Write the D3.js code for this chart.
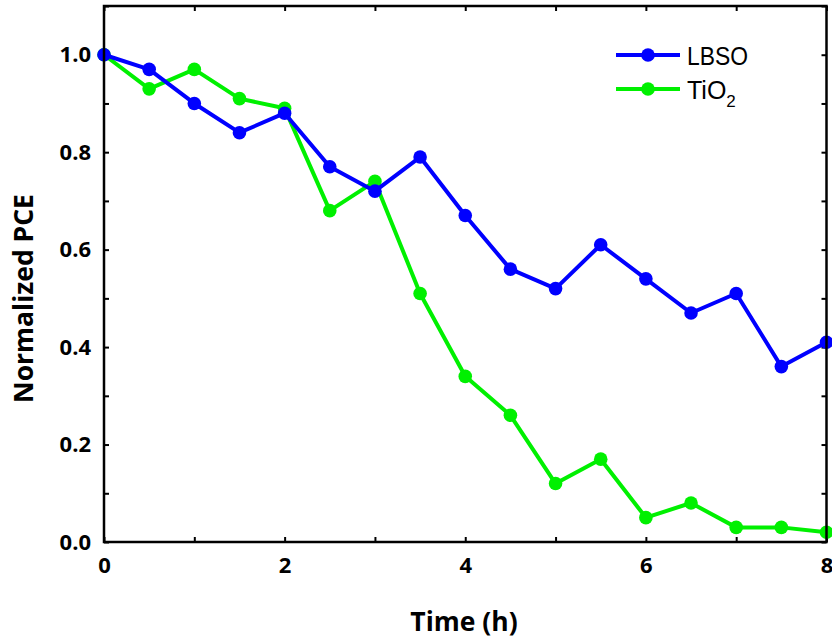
<!DOCTYPE html>
<html><head><meta charset="utf-8">
<script src="https://cdn.jsdelivr.net/npm/d3@7"></script>
<style>body{margin:0;background:#fff}</style>
</head><body>
<svg id="c" width="832" height="642"></svg>
<script>
const times = [0,0.5,1,1.5,2,2.5,3,3.5,4,4.5,5,5.5,6,6.5,7,7.5,8];
const lbso = [1.0,0.97,0.90,0.84,0.88,0.77,0.72,0.79,0.67,0.56,0.52,0.61,0.54,0.47,0.51,0.36,0.41];
const tio2 = [1.0,0.93,0.97,0.91,0.89,0.68,0.74,0.51,0.34,0.26,0.12,0.17,0.05,0.08,0.03,0.03,0.02];
const xTicks = [0,2,4,6,8];
const yTicks = [0.0,0.2,0.4,0.6,0.8,1.0];
const seriesNames = ["LBSO","TiO"];
const colors = ["#0000ff","#00f000"];

const svg = d3.select("#c");
const L=104, R=826.5, T=6, B=542;
const x = d3.scaleLinear().domain([0,8]).range([L,R]);
const y = d3.scaleLinear().domain([0,1.1]).range([B,T]);
const fontT = "'Open Sans', 'DejaVu Sans', sans-serif";

// axes with inward ticks
const xMinor = d3.range(0,8.01,1);
const yMinor = d3.range(0,1.101,0.1).map(v=>+v.toFixed(2));
const g = svg.append("g");
g.append("g").attr("transform",`translate(0,${B})`)
  .call(d3.axisBottom(x).tickValues(xMinor).tickSize(-5).tickFormat(""))
  .call(s=>s.select(".domain").remove());
g.append("g").attr("transform",`translate(0,${T})`)
  .call(d3.axisTop(x).tickValues(xMinor).tickSize(-5).tickFormat(""))
  .call(s=>s.select(".domain").remove());
g.append("g").attr("transform",`translate(${L},0)`)
  .call(d3.axisLeft(y).tickValues(yMinor).tickSize(-5).tickFormat(""))
  .call(s=>s.select(".domain").remove());
g.append("g").attr("transform",`translate(${R},0)`)
  .call(d3.axisRight(y).tickValues(yMinor).tickSize(-5).tickFormat(""))
  .call(s=>s.select(".domain").remove());
g.selectAll(".tick line").attr("stroke","#000").attr("stroke-width",2);

// labels
svg.append("g").selectAll("text").data(xTicks).join("text")
  .attr("x",d=>x(d)+0.5).attr("y",573).attr("text-anchor","middle")
  .attr("font-family",fontT).attr("font-weight","bold").attr("font-size",22)
  .text(d=>d);
svg.append("g").selectAll("text").data(yTicks).join("text")
  .attr("x",91).attr("y",d=>y(d)+7.5).attr("text-anchor","end")
  .attr("font-family",fontT).attr("font-weight","bold").attr("font-size",22)
  .text(d=>d.toFixed(1));

svg.append("text").attr("x",464).attr("y",631).attr("text-anchor","middle")
  .attr("font-family",fontT).attr("font-weight","bold").attr("font-size",26.5)
  .text("Time (h)");
svg.append("text").attr("transform",`translate(33,298.5) rotate(-90)`).attr("text-anchor","middle")
  .attr("font-family",fontT).attr("font-weight","bold").attr("font-size",26.5)
  .text("Normalized PCE");

// series
const data = [lbso, tio2];
const line = d3.line().x((d,i)=>x(times[i])).y(d=>y(d));
[1,0].forEach(k=>{
  svg.append("path").datum(data[k]).attr("d",line).attr("fill","none")
    .attr("stroke",colors[k]).attr("stroke-width",4).attr("stroke-linejoin","round");
  svg.append("g").selectAll("circle").data(data[k]).join("circle")
    .attr("cx",(d,i)=>x(times[i])).attr("cy",d=>y(d)).attr("r",6.8).attr("fill",colors[k]);
});

// frame
svg.append("rect").attr("x",L).attr("y",T).attr("width",R-L).attr("height",B-T)
  .attr("fill","none").attr("stroke","#000").attr("stroke-width",2.5);

// legend
const lg = svg.append("g");
[0,1].forEach(k=>{
  const ly = 55 + k*34;
  lg.append("line").attr("x1",616).attr("x2",680).attr("y1",ly).attr("y2",ly)
    .attr("stroke",colors[k]).attr("stroke-width",4);
  lg.append("circle").attr("cx",648).attr("cy",ly).attr("r",6.8).attr("fill",colors[k]);
  const t = lg.append("text").attr("x",687).attr("y",ly+10)
    .attr("font-family","'Liberation Sans', Arial, sans-serif").attr("font-size",25);
  if(k===0){ t.attr("textLength",61).attr("lengthAdjust","spacingAndGlyphs").text(seriesNames[k]); }
  else {
    t.append("tspan").text(seriesNames[k]);
    t.append("tspan").attr("font-size",17).attr("dy",8).text("2");
  }
});
</script>
</body></html>
